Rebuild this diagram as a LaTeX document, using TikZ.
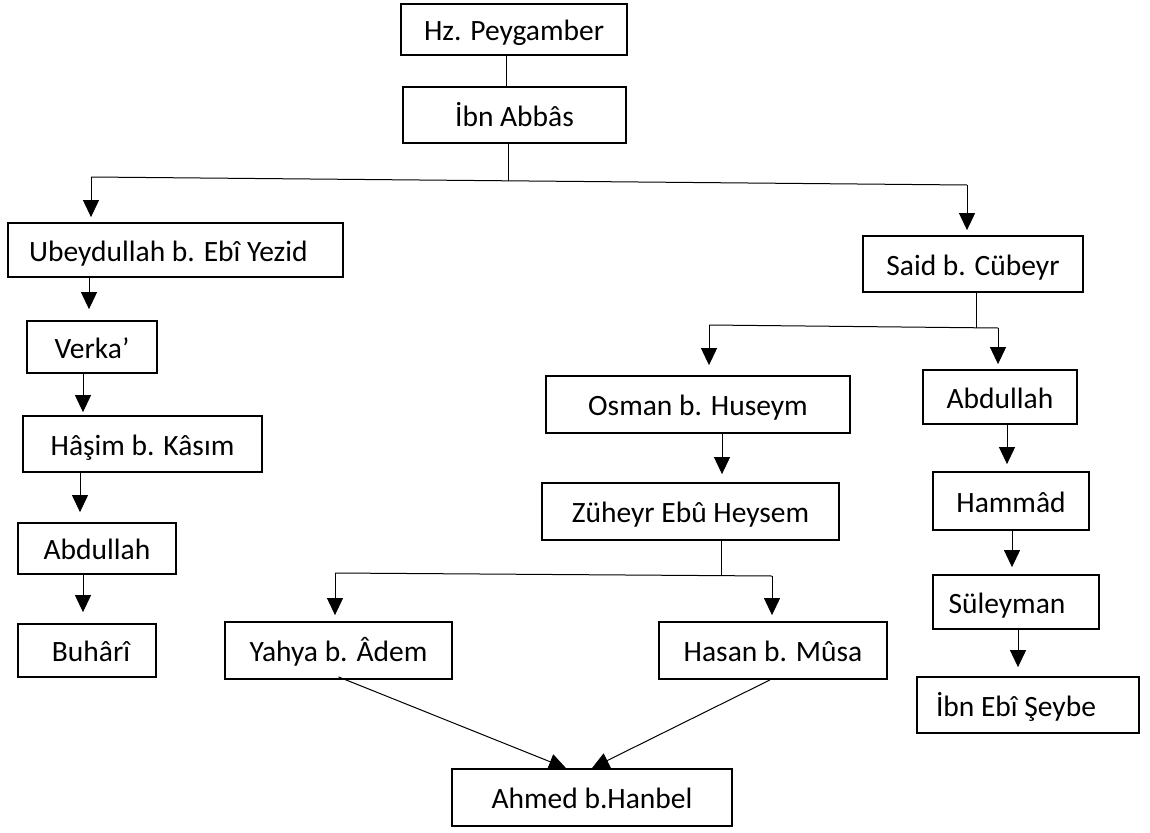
\documentclass[tikz,border=0pt]{standalone}
\usepackage{fontspec}
\setmainfont{Carlito}
\usetikzlibrary{arrows.meta}
\begin{document}
\begin{tikzpicture}[x=1pt,y=-1pt,
  bx/.style={draw, line width=1.8pt, inner sep=0pt, text height=22pt, text depth=0pt,
    font=\fontsize{29.5}{34}\selectfont},
  ln/.style={line width=1pt},
  arr/.style={line width=1pt, -{Triangle[width=16pt,length=17pt]}}]
\fill[white] (0,0) rectangle (1150,832);
\useasboundingbox (0,0) rectangle (1150,832);
% boxes
\node[bx, minimum width=226pt, minimum height=51pt] (hz) at (514,29.5) {Hz. Peygamber};
\node[bx, minimum width=223pt, minimum height=56pt] (ibn) at (514.5,115) {İbn Abbâs};
\node[bx, minimum width=335pt, minimum height=54pt] (ubey) at (175.5,250) {\hspace*{-14pt}Ubeydullah b. Ebî Yezid};
\node[bx, minimum width=130pt, minimum height=52pt] (verka) at (92,347) {Verka’};
\node[bx, minimum width=239pt, minimum height=56pt] (hasim) at (142.5,444) {Hâşim b. Kâsım};
\node[bx, minimum width=158pt, minimum height=51pt] (abdA) at (97,548.5) {Abdullah};
\node[bx, minimum width=138pt, minimum height=53pt] (buhari) at (87,650.5) {\hspace*{8pt}Buhârî};
\node[bx, minimum width=220pt, minimum height=56pt] (said) at (973,264) {Said b. Cübeyr};
\node[bx, minimum width=304pt, minimum height=57pt] (osman) at (698,404.5) {Osman b. Huseym};
\node[bx, minimum width=297pt, minimum height=57pt] (zuheyr) at (690.5,511.5) {Züheyr Ebû Heysem};
\node[bx, minimum width=227pt, minimum height=57pt] (yahya) at (338.5,650.5) {Yahya b. Âdem};
\node[bx, minimum width=228pt, minimum height=57pt] (hasan) at (773,650.5) {Hasan b. Mûsa};
\node[bx, minimum width=280pt, minimum height=57pt] (ahmed) at (592,797.5) {Ahmed b.Hanbel};
\node[bx, minimum width=154pt, minimum height=54pt] (abdB) at (1000,397) {Abdullah};
\node[bx, minimum width=156pt, minimum height=58pt] (hammad) at (1011,501) {Hammâd};
\node[bx, minimum width=166pt, minimum height=54pt] (suleyman) at (1016,602) {\hspace*{-18pt}Süleyman};
\node[bx, minimum width=222pt, minimum height=56pt] (seybe) at (1028,705) {\hspace*{-24pt}İbn Ebî Şeybe};
% columns and junctions
\coordinate (hzl) at (506,0);
\coordinate (c1) at (89,0);
\coordinate (c2) at (83,0);
\coordinate (c3) at (80,0);
\coordinate (co) at (722,0);
\coordinate (ca1) at (1007,0);
\coordinate (ca2) at (1012,0);
\coordinate (ca3) at (1018,0);
\coordinate (j1) at (508,181);
\coordinate (bl) at (91,177);
\coordinate (br) at (967,185);
\coordinate (j2) at (976,327.7);
\coordinate (sl) at (709,325);
\coordinate (sr) at (998,328);
\coordinate (j3) at (721,575.6);
\coordinate (zl) at (335,573);
\coordinate (zr) at (772,576);
% connectors
\draw[ln] (hz.south -| hzl) -- (ibn.north -| hzl);
\draw[ln] (ibn.south -| j1) -- (j1);
\draw[ln] (bl) -- (br);
\draw[arr, shorten >=5pt] (bl) -- (bl |- ubey.north);
\draw[arr, shorten >=5pt] (br) -- (br |- said.north);
\draw[arr, shorten >=11pt] (ubey.south -| c1) -- (verka.north -| c1);
\draw[arr, shorten >=3pt] (verka.south -| c2) -- (hasim.north -| c2);
\draw[arr, shorten >=10pt] (hasim.south -| c3) -- (abdA.north -| c3);
\draw[arr, shorten >=11pt] (abdA.south -| c2) -- (buhari.north -| c2);
\draw[ln] (said.south -| j2) -- (j2);
\draw[ln] (sl) -- (sr);
\draw[arr, shorten >=10pt] (sl) -- (sl |- osman.north);
\draw[arr, shorten >=5pt] (sr) -- (sr |- abdB.north);
\draw[arr, shorten >=8pt] (osman.south -| co) -- (zuheyr.north -| co);
\draw[ln] (zuheyr.south -| j3) -- (j3);
\draw[ln] (zl) -- (zr);
\draw[arr, shorten >=6pt] (zl) -- (zl |- yahya.north);
\draw[arr, shorten >=6pt] (zr) -- (zr |- hasan.north);
\draw[arr, shorten >=7pt] (abdB.south -| ca1) -- (hammad.north -| ca1);
\draw[arr, shorten >=7pt] (hammad.south -| ca2) -- (suleyman.north -| ca2);
\draw[arr, shorten >=9pt] (suleyman.south -| ca3) -- (seybe.north -| ca3);
\draw[arr] ([yshift=3pt]yahya.south) -- ([xshift=-26pt]ahmed.north);
\draw[arr] ([xshift=-3pt]hasan.south) -- (ahmed.north);
\end{tikzpicture}
\end{document}
